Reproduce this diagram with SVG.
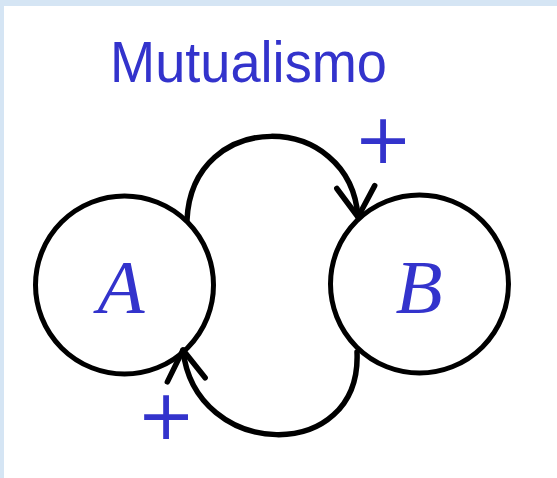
<svg xmlns="http://www.w3.org/2000/svg" width="557" height="478" viewBox="0 0 557 478">
  <style>
    .node { fill: none; stroke: #000000; stroke-width: 5; }
    .edge { fill: none; stroke: #000000; stroke-width: 5.5; stroke-linecap: round; }
    .lbl { font-family: "Liberation Serif", "Times New Roman", serif; font-style: italic; font-size: 77px; fill: #3333cc; text-anchor: middle; }
    .title { font-family: "Liberation Sans", Arial, sans-serif; font-size: 57px; fill: #3333cc; }
    .plus { font-family: "DejaVu Sans", sans-serif; font-size: 70px; fill: #3333cc; text-anchor: middle; }
  </style>
  <defs>
    <marker id="arrow" markerUnits="userSpaceOnUse" markerWidth="80" markerHeight="80" refX="0" refY="0" orient="auto" overflow="visible" viewBox="-40 -40 80 80">
      <path d="M-30,-19 L0,0 L-30,19" fill="none" stroke="#000000" stroke-width="5.5" stroke-linecap="round" stroke-linejoin="round"/>
    </marker>
  </defs>
  <rect x="0" y="0" width="557" height="478" fill="#d5e5f4"/>
  <rect x="4" y="6" width="553" height="472" fill="#ffffff"/>

  <text class="title" x="110" y="82" textLength="277" lengthAdjust="spacingAndGlyphs">Mutualismo</text>

  <g id="connectors">
    <path class="edge" d="M187,220 C192,108 350,110 358,217" marker-end="url(#arrow)"/>
    <path class="edge" d="M357,352 C362,465 195,460 183,350" marker-end="url(#arrow)"/>
  </g>

  <g id="nodeA">
    <circle class="node" cx="124.5" cy="285" r="89"/>
    <text class="lbl" x="121" y="313">A</text>
  </g>
  <g id="nodeB">
    <circle class="node" cx="419.5" cy="284" r="89"/>
    <text class="lbl" x="419" y="313">B</text>
  </g>

  <text class="plus" x="383" y="163">+</text>
  <text class="plus" x="166" y="439">+</text>
</svg>
